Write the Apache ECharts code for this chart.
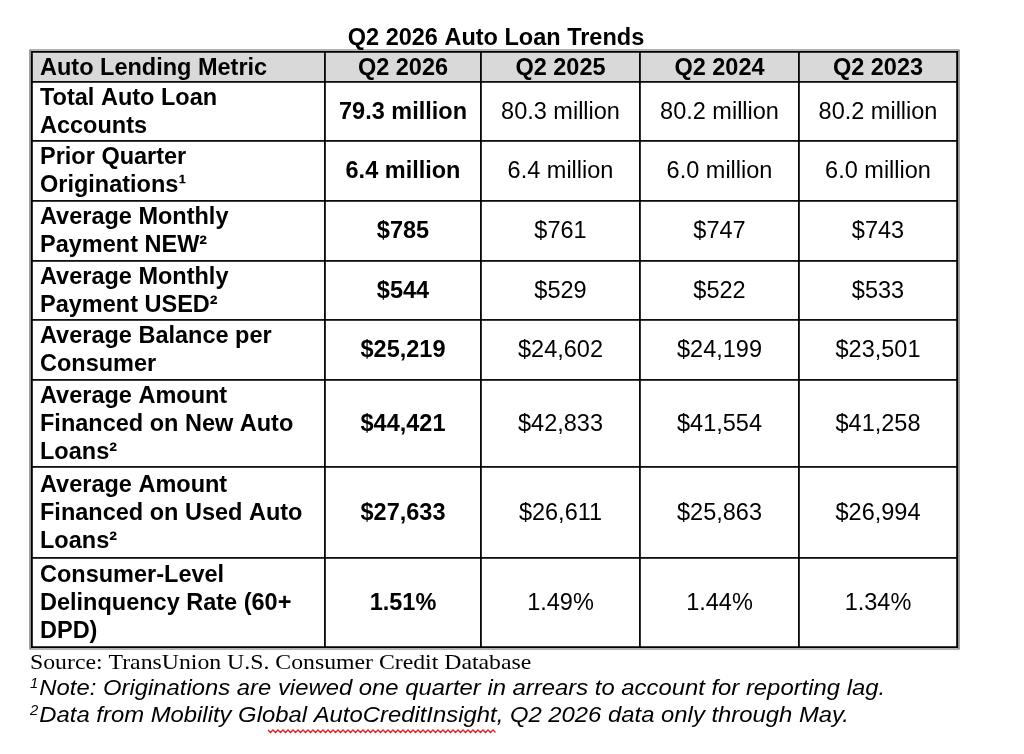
<!DOCTYPE html>
<html>
<head>
<meta charset="utf-8">
<title>Q2 2026 Auto Loan Trends</title>
<script src="https://cdn.jsdelivr.net/npm/echarts@6/dist/echarts.min.js"></script>
<style>
  html, body { margin: 0; padding: 0; background: #fff; }
  #main { width: 1024px; height: 754px; }
</style>
</head>
<body>
<div id="main"></div>
<script>
'use strict';

// table data
var title = 'Q2 2026 Auto Loan Trends';
var headers = ['Auto Lending Metric', 'Q2 2026', 'Q2 2025', 'Q2 2024', 'Q2 2023'];
var metrics = [
  'Total Auto Loan\nAccounts',
  'Prior Quarter\nOriginations¹',
  'Average Monthly\nPayment NEW²',
  'Average Monthly\nPayment USED²',
  'Average Balance per\nConsumer',
  'Average Amount\nFinanced on New Auto\nLoans²',
  'Average Amount\nFinanced on Used Auto\nLoans²',
  'Consumer-Level\nDelinquency Rate (60+\nDPD)'
];
var q2026 = ['79.3 million', '6.4 million', '$785', '$544', '$25,219', '$44,421', '$27,633', '1.51%'];
var q2025 = ['80.3 million', '6.4 million', '$761', '$529', '$24,602', '$42,833', '$26,611', '1.49%'];
var q2024 = ['80.2 million', '6.0 million', '$747', '$522', '$24,199', '$41,554', '$25,863', '1.44%'];
var q2023 = ['80.2 million', '6.0 million', '$743', '$533', '$23,501', '$41,258', '$26,994', '1.34%'];
var sourceNote = 'Source: TransUnion U.S. Consumer Credit Database';
var note1 = 'Note: Originations are viewed one quarter in arrears to account for reporting lag.';
var note2 = 'Data from Mobility Global AutoCreditInsight, Q2 2026 data only through May.';

// layout: column edges / row edges in axis units
var colEdges = [0, 293, 449, 608, 767, 925];
var rowEdges = [0, 30, 89, 149, 209, 268, 328, 415, 506, 595];

var FONT = '"Liberation Sans", Arial, sans-serif';
var FS = 23.5;

var columns = [metrics, q2026, q2025, q2024, q2023];

// cells: [col, row, text]
var cells = [];
headers.forEach(function (h, c) {
  cells.push([c, 0, h]);
});
for (var r = 0; r < metrics.length; r++) {
  for (var c = 0; c < columns.length; c++) {
    cells.push([c, r + 1, columns[c][r]]);
  }
}

function renderCell(params, api) {
  var c = api.value(0);
  var r = api.value(1);
  var text = cells[params.dataIndex][2];
  var p0 = api.coord([colEdges[c], rowEdges[r]]);
  var p1 = api.coord([colEdges[c + 1], rowEdges[r + 1]]);
  var x = p0[0], y = p0[1], w = p1[0] - p0[0], h = p1[1] - p0[1];
  var header = r === 0;
  var bold = header || c <= 1;
  var left = c === 0;
  return {
    type: 'group',
    children: [{
      type: 'rect',
      shape: { x: x, y: y, width: w, height: h },
      style: { fill: header ? '#d9d9d9' : '#fff', stroke: '#000', lineWidth: 1.6 }
    }, {
      type: 'text',
      x: left ? x + 8 : x + w / 2,
      y: y + h / 2 + (header ? 2 : 1),
      style: {
        text: text,
        fill: '#000',
        font: (bold ? 'bold ' : '') + FS + 'px ' + FONT,
        lineHeight: 28,
        align: left ? 'left' : 'center',
        verticalAlign: 'middle'
      }
    }]
  };
}

// red squiggle under the spell-checked word
function squiggle(x0, x1, y) {
  var pts = [];
  var i = 0;
  for (var x = x0; x <= x1; x += 2.5) {
    pts.push([x, y + (i % 2 ? 2.5 : 0)]);
    i++;
  }
  return pts;
}

var noteRich = {
  s: { font: 'italic 14px ' + FONT, fill: '#000', verticalAlign: 'top', padding: [0, 1, 9, 0] },
  t: { font: 'italic 22.5px ' + FONT, fill: '#000' }
};

var chart = echarts.init(document.getElementById('main'));

var option = {
  backgroundColor: '#fff',
  animation: false,
  title: {
    text: title,
    left: 491,
    textAlign: 'center',
    top: 22,
    textStyle: { fontFamily: FONT, fontWeight: 'bold', fontSize: FS, color: '#000' }
  },
  grid: { left: 32, top: 52, width: 925, height: 595 },
  xAxis: { type: 'value', min: 0, max: 925, show: false },
  yAxis: { type: 'value', min: 0, max: 595, inverse: true, show: false },
  series: [{
    type: 'custom',
    renderItem: renderCell,
    data: cells.map(function (d) { return [d[0], d[1]]; }),
    silent: true
  }],
  graphic: [{
    // outer double border
    type: 'rect',
    shape: { x: 30, y: 50, width: 929, height: 599 },
    style: { fill: null, stroke: '#666', lineWidth: 1.2 }
  }, {
    type: 'rect',
    shape: { x: 32, y: 52, width: 925, height: 595 },
    style: { fill: null, stroke: '#000', lineWidth: 2.2 }
  }, {
    type: 'text',
    x: 30,
    y: 663,
    scaleX: 1.08,
    style: {
      text: sourceNote,
      font: '22px "Liberation Serif", "Times New Roman", serif',
      fill: '#000',
      verticalAlign: 'middle'
    }
  }, {
    type: 'text',
    x: 30,
    y: 689,
    scaleX: 1.06,
    style: {
      text: '{s|1}{t|' + note1 + '}',
      rich: noteRich,
      verticalAlign: 'middle'
    }
  }, {
    type: 'text',
    x: 30,
    y: 716,
    scaleX: 1.06,
    style: {
      text: '{s|2}{t|' + note2 + '}',
      rich: noteRich,
      verticalAlign: 'middle'
    }
  }, {
    type: 'polyline',
    shape: { points: squiggle(268, 497, 730) },
    style: { stroke: '#e02020', lineWidth: 1.3, fill: null }
  }]
};

chart.setOption(option);
</script>
</body>
</html>
